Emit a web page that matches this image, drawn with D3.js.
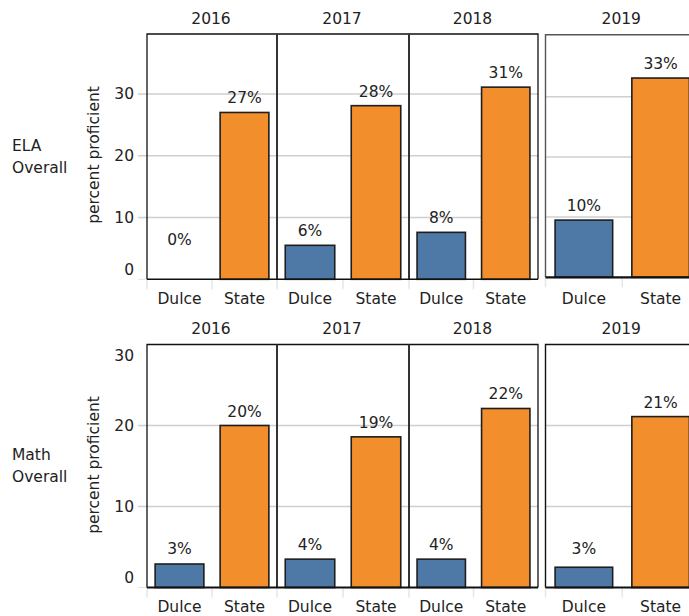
<!DOCTYPE html>
<html>
<head>
<meta charset="utf-8">
<script src="https://cdn.jsdelivr.net/npm/d3@7"></script>
<style>
  html, body { margin: 0; padding: 0; background: #fff; }
  svg { display: block; }
  text { font-family: "DejaVu Sans", "Noto Sans", sans-serif; fill: #222; }
</style>
</head>
<body>
<svg id="chart" width="689" height="616"></svg>
<script>
// ---- data ----
const years = ["2016", "2017", "2018", "2019"];
const groups = ["Dulce", "State"];
const rowNames = [["ELA", "Overall"], ["Math", "Overall"]];
const elaDulce = [0, 5.5, 7.6, 9.5];
const elaState = [27.0, 28.1, 31.1, 33.1];
const mathDulce = [2.9, 3.5, 3.5, 2.5];
const mathState = [20.0, 18.6, 22.1, 21.1];
const elaTicks = [0, 10, 20, 30];
const mathTicks = [0, 10, 20, 30];
const yTitle = "percent proficient";

const colors = { Dulce: "#4e79a7", State: "#f28e2b" };
const FS = "15.5px";
const svg = d3.select("#chart");

// panel horizontal extents (2019 drawn as a separate detached panel)
const panelX = [[147, 277], [277, 409], [409, 538], [545.5, 699]];

const rows = [
  { dulce: elaDulce, state: elaState, ticks: elaTicks, name: rowNames[0],
    domain: [0, 39.7], range: [279.3, 34],
    domain19: [0, 40.3], range19: [277.3, 34.7],
    yearY: 24, catY: 304, labelY: 157, titleY: 155 },
  { dulce: mathDulce, state: mathState, ticks: mathTicks, name: rowNames[1],
    domain: [0, 30], range: [587.5, 344.5],
    domain19: [0, 30], range19: [587.5, 344.5],
    yearY: 334, catY: 612, labelY: 466, titleY: 465 }
];

rows.forEach((row, ri) => {
  const g = svg.append("g");
  const yMain = d3.scaleLinear().domain(row.domain).range(row.range);
  const y19 = d3.scaleLinear().domain(row.domain19).range(row.range19);

  // row label
  const rl = g.append("text").attr("x", 12).attr("y", row.labelY - 6)
    .style("font-size", FS);
  rl.append("tspan").attr("x", 12).attr("dy", 0).text(row.name[0]);
  rl.append("tspan").attr("x", 12).attr("dy", 22).text(row.name[1]);

  // y axis title
  g.append("text")
    .attr("transform", `translate(99,${row.titleY}) rotate(-90)`)
    .attr("text-anchor", "middle")
    .style("font-size", FS)
    .text(yTitle);

  // y tick labels
  row.ticks.forEach(t => {
    let ty = yMain(t);
    if (Math.abs(ty - row.range[0]) < 3) ty -= 10;
    if (Math.abs(ty - row.range[1]) < 3) ty += 11;
    g.append("text").attr("x", 134).attr("y", ty + 5.5)
      .attr("text-anchor", "end").style("font-size", FS).text(t);
  });

  years.forEach((yr, yi) => {
    const [x0, x1] = panelX[yi];
    const y = yi === 3 ? y19 : yMain;
    const yr0 = y.range()[0], yr1 = y.range()[1];
    const xb = d3.scaleBand().domain(groups).range([x0, x1]).padding(0);
    const pg = g.append("g");

    // gridlines
    row.ticks.forEach(t => {
      if (t === 0) return;
      const gy = y(t);
      if (gy <= yr1 + 0.5) return;
      pg.append("line")
        .attr("x1", yi === 0 ? 138 : x0).attr("x2", x1)
        .attr("y1", gy).attr("y2", gy)
        .attr("stroke", "#cfcfcf").attr("stroke-width", 1.5);
    });
    if (yi === 0) {
      pg.append("line").attr("x1", 138).attr("x2", x0)
        .attr("y1", yr0).attr("y2", yr0)
        .attr("stroke", "#e3e3e3").attr("stroke-width", 1);
    }

    // band dividers below axis
    [x0, x0 + xb.bandwidth()].forEach(bx => {
      pg.append("line").attr("x1", bx).attr("x2", bx)
        .attr("y1", yr0).attr("y2", yr0 + 10)
        .attr("stroke", "#e6e6e6").attr("stroke-width", 1.5);
    });

    // year title
    pg.append("text").attr("x", (x0 + x1) / 2 - 1)
      .attr("y", row.yearY)
      .attr("text-anchor", "middle").style("font-size", FS).text(yr);

    // bars + labels
    const vals = { Dulce: row.dulce[yi], State: row.state[yi] };
    groups.forEach(grp => {
      const v = vals[grp];
      const bw = xb.bandwidth() * 0.75;
      const cx = xb(grp) + xb.bandwidth() / 2;
      if (v > 0) {
        pg.append("rect")
          .attr("x", cx - bw / 2).attr("width", bw)
          .attr("y", y(v)).attr("height", yr0 - y(v))
          .attr("fill", colors[grp]).attr("stroke", "#1e1e1e").attr("stroke-width", 1.6);
      }
      const ly = Math.min(y(v), yr0 - 25) - 9;
      pg.append("text").attr("x", cx).attr("y", ly)
        .attr("text-anchor", "middle").style("font-size", FS)
        .text(Math.round(v) + "%");
      pg.append("text").attr("x", cx).attr("y", row.catY)
        .attr("text-anchor", "middle").style("font-size", FS).text(grp);
    });
  });

  // frames for 2016-2018 block
  const top = row.range[1], bot = row.range[0];
  g.append("path")
    .attr("d", `M147,${bot}V${top}H538V${bot}`)
    .attr("fill", "none").attr("stroke", "#111").attr("stroke-width", 1.3);
  [277, 409].forEach(sx => {
    g.append("line").attr("x1", sx).attr("x2", sx).attr("y1", top).attr("y2", bot)
      .attr("stroke", "#333").attr("stroke-width", 2);
  });
  g.append("line").attr("x1", 147).attr("x2", 538).attr("y1", bot).attr("y2", bot)
    .attr("stroke", "#111").attr("stroke-width", ri === 0 ? 1.4 : 2.2);

  // frame for 2019 panel
  const t19 = row.range19[1], b19 = row.range19[0];
  g.append("path")
    .attr("d", `M545.5,${b19}V${t19}H699`)
    .attr("fill", "none").attr("stroke", ri === 0 ? "#555" : "#111").attr("stroke-width", 1.4);
  g.append("line").attr("x1", 545.5).attr("x2", 699).attr("y1", b19).attr("y2", b19)
    .attr("stroke", "#111").attr("stroke-width", 2.2);
});
</script>
</body>
</html>
